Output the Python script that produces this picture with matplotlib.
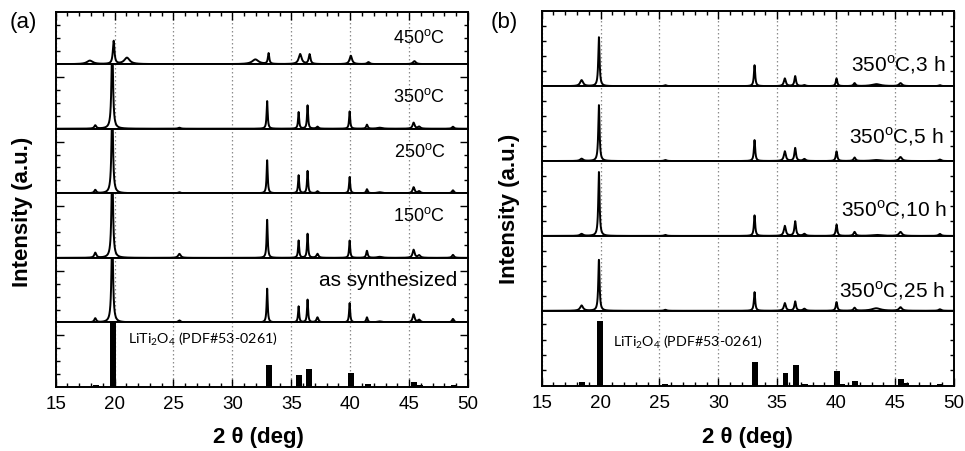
import numpy as np
import matplotlib
matplotlib.use('Agg')
import matplotlib.pyplot as plt
from matplotlib.gridspec import GridSpec
from matplotlib.ticker import MultipleLocator

plt.rcParams['font.family'] = ['Liberation Sans', 'DejaVu Sans']
plt.rcParams['mathtext.fontset'] = 'custom'
plt.rcParams['mathtext.rm'] = 'Liberation Sans'
plt.rcParams['mathtext.sf'] = 'Lato'
plt.rcParams['mathtext.bf'] = 'Liberation Sans:bold'

# ---- panel (a): annealing temperature series ----
pos_a = [18.36, 19.8, 25.5, 32.95, 35.62, 36.38, 37.22, 39.95, 41.42, 42.5, 45.38, 45.85, 48.72]
wid_a = [0.2, 0.15, 0.25, 0.11, 0.11, 0.11, 0.2, 0.11, 0.15, 0.5, 0.2, 0.25, 0.2]
int_350 = [3.3, 90, 1, 27.6, 16.6, 23.3, 2, 17.3, 4, 1, 6, 2, 2]
int_250 = [3.3, 90, 1, 33, 18, 22.3, 2, 16.3, 4, 1, 6, 2, 3]
int_150 = [5, 95, 4, 38, 17.3, 24, 4, 17.3, 7, 1, 8, 2.5, 3]
int_syn = [4, 95, 2, 33.7, 16, 22.7, 5, 19.3, 5, 1, 8, 2.5, 3.5]

pos_450 = [17.9, 19.92, 21.05, 31.95, 33.07, 35.75, 36.55, 40.05, 41.55, 45.45]
wid_450 = [0.6, 0.16, 0.55, 0.65, 0.14, 0.3, 0.18, 0.25, 0.25, 0.3]
int_450 = [3.5, 23, 6.4, 4.7, 10.7, 10, 9.7, 8.4, 2, 3]

pdf_pos_a = [18.39, 19.86, 25.54, 33.07, 35.67, 36.52, 37.3, 40.08, 41.52, 45.42, 45.9, 48.8]
pdf_int_a = [1.5, 64.5, 1, 22, 12, 18, 1, 14, 3, 4.7, 2, 2]

labels_a = ['450$^{\\rm o}$C', '350$^{\\rm o}$C', '250$^{\\rm o}$C', '150$^{\\rm o}$C', 'as synthesized']

# ---- panel (b): annealing time series at 350 C ----
pos_b = [18.39, 19.86, 25.5, 33.07, 35.64, 36.52, 37.3, 40.03, 41.56, 43.4, 45.46, 48.8]
wid_b = [0.3, 0.13, 0.25, 0.13, 0.2, 0.16, 0.25, 0.15, 0.2, 0.9, 0.3, 0.25]
int_3h = [6, 49, 1, 21, 7.7, 10, 1, 7.7, 3, 2, 3, 1]
int_5h = [2.3, 56, 1, 21, 9.7, 13, 2, 9.7, 3.5, 1, 4, 1.5]
int_10h = [2, 64, 1, 20.6, 10, 14.6, 2, 11.3, 4, 1, 4, 2]
int_25h = [5.3, 51, 1, 18.7, 7.7, 9.3, 2, 8.7, 3, 2.5, 3.5, 1.5]

pdf_pos_b = [18.42, 19.92, 25.5, 33.1, 35.7, 36.58, 37.34, 40.08, 40.5, 41.56, 45.5, 45.9, 48.82]
pdf_int_b = [3.3, 63, 2, 23.3, 12.3, 19.7, 2, 14.7, 1.5, 4.3, 6.7, 3, 2]

labels_b = ['350$^{\\rm o}$C,3 h', '350$^{\\rm o}$C,5 h', '350$^{\\rm o}$C,10 h', '350$^{\\rm o}$C,25 h']

two_theta = np.linspace(15, 50, 3501)


def profile(pos, hgt, wid):
    y = np.zeros_like(two_theta)
    for c, h, w in zip(pos, hgt, wid):
        y += h / (1 + ((two_theta - c) / (w / 2)) ** 2)
    return y


def style_row(ax, ymax, step, first, last, long_top=False):
    ax.set_xlim(15, 50)
    ax.set_ylim(0, ymax)
    ax.set_axisbelow(True)
    ax.xaxis.set_major_locator(MultipleLocator(5))
    ax.xaxis.set_minor_locator(MultipleLocator(1))
    n = int(round(ymax / step))
    ticks = [step * i for i in range(1, n)]
    if long_top and len(ticks) > 0:
        ax.set_yticks([ticks[-1]])
        ax.set_yticks(ticks[:-1], minor=True)
    else:
        ax.set_yticks([])
        ax.set_yticks(ticks, minor=True)
    ax.tick_params(which='both', direction='in', left=True, right=True,
                   top=first, bottom=last, labelleft=False, labelbottom=last,
                   labelsize=13.5, width=1.0)
    ax.tick_params(which='major', length=5.5)
    ax.tick_params(which='minor', length=3.2)
    ax.tick_params(axis='x', which='major', pad=6)
    ax.grid(axis='x', which='major', color='#8c8c8c', linestyle=(0, (1.2, 2)), linewidth=0.9)
    for s in ax.spines.values():
        s.set_linewidth(1.4)


fig = plt.figure(figsize=(9.65, 4.52), dpi=100)

# panel (a)
gs_a = GridSpec(6, 1, figure=fig, left=0.0577, right=0.485, top=0.971, bottom=0.1416,
                hspace=0, height_ratios=[52, 64.5, 64.5, 64.5, 64.5, 64.5])
series_a = [(pos_450, int_450, wid_450), (pos_a, int_350, wid_a), (pos_a, int_250, wid_a),
            (pos_a, int_150, wid_a), (pos_a, int_syn, wid_a)]
lab_x_a = [0.944, 0.944, 0.946, 0.944, 0.973]
lab_y_a = [0.53, 0.51, 0.66, 0.66, 0.67]
lab_fs_a = [13, 13, 13, 13, 15]
for i in range(6):
    ax = fig.add_subplot(gs_a[i])
    ymax = 52 if i == 0 else 64.5
    style_row(ax, ymax, 12.9, i == 0, i == 5, long_top=(i > 0))
    if i < 5:
        p, h, w = series_a[i]
        ax.plot(two_theta, profile(p, h, w), color='k', lw=1.4)
        ax.text(lab_x_a[i], lab_y_a[i], labels_a[i], transform=ax.transAxes,
                ha='right', va='center', fontsize=lab_fs_a[i])
    else:
        ax.bar(pdf_pos_a, pdf_int_a, width=0.5, color='k', zorder=2)
        ax.text(0.175, 0.75, '$\\mathsf{LiTi_2O_4}$ (PDF#53-0261)', family='Lato',
                transform=ax.transAxes, ha='left', va='center', fontsize=10.3)

# panel (b)
gs_b = GridSpec(5, 1, figure=fig, left=0.5613, right=0.9886, top=0.9728, bottom=0.1445,
                hspace=0)
series_b = [int_3h, int_5h, int_10h, int_25h]
lab_x_b = [0.978, 0.974, 0.982, 0.978]
lab_y_b = [0.30, 0.34, 0.36, 0.28]
for i in range(5):
    ax = fig.add_subplot(gs_b[i])
    style_row(ax, 75, 15, i == 0, i == 4)
    if i < 4:
        ax.plot(two_theta, profile(pos_b, series_b[i], wid_b), color='k', lw=1.4)
        ax.text(lab_x_b[i], lab_y_b[i], labels_b[i], transform=ax.transAxes,
                ha='right', va='center', fontsize=15)
    else:
        ax.set_ylim(0, 73)
        ax.bar(pdf_pos_b, pdf_int_b, width=0.5, color='k', zorder=2)
        ax.text(0.174, 0.59, '$\\mathsf{LiTi_2O_4}$ (PDF#53-0261)', family='Lato',
                transform=ax.transAxes, ha='left', va='center', fontsize=10.3)

fig.text(0.024, 0.951, '(a)', ha='center', va='center', fontsize=16)
fig.text(0.523, 0.951, '(b)', ha='center', va='center', fontsize=16)
fig.text(0.0228, 0.532, 'Intensity (a.u.)', rotation=90, ha='center', va='center',
         fontsize=16, fontweight='bold')
fig.text(0.528, 0.537, 'Intensity (a.u.)', rotation=90, ha='center', va='center',
         fontsize=16, fontweight='bold')
fig.text(0.2674, 0.031, '2 θ (deg)', ha='center', va='center', fontsize=16, fontweight='bold')
fig.text(0.775, 0.031, '2 θ (deg)', ha='center', va='center', fontsize=16, fontweight='bold')

fig.savefig('out.png', dpi=100, facecolor='white')
